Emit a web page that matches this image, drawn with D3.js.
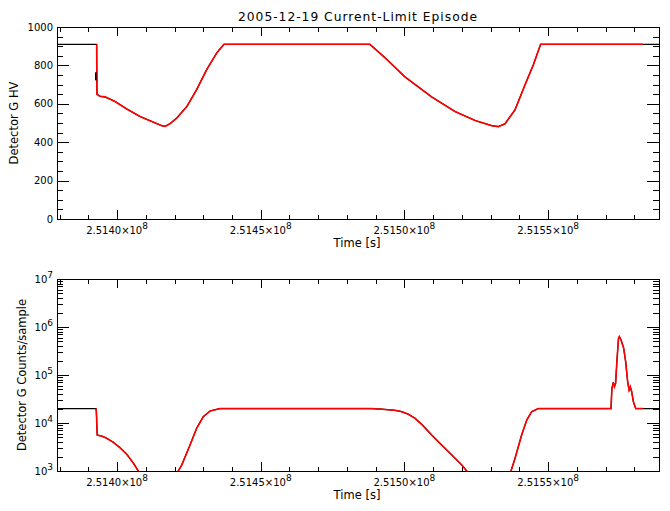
<!DOCTYPE html>
<html><head><meta charset="utf-8">
<script src="https://cdn.jsdelivr.net/npm/d3@7"></script>
<style>
body{margin:0;background:#fff}
svg text{font-family:"DejaVu Sans",sans-serif;fill:#000}
</style>
</head><body><svg id="c" width="670" height="511"></svg>
<script>
const title = "2005-12-19 Current-Limit Episode";
const xTitle = "Time [s]";
const hvTitle = "Detector G HV";
const cntTitle = "Detector G Counts/sample";
const xDomain = [251379100, 251588600];
const xTicks = [251400000, 251450000, 251500000, 251550000];
const xTickLabels = ["2.5140", "2.5145", "2.5150", "2.5155"];
const xTickExp = "8";
const hvTicks = [0, 200, 400, 600, 800, 1000];
const hvTickLabels = ["0", "200", "400", "600", "800", "1000"];
const cntDecades = [3, 4, 5, 6, 7];

const hvTime = [251379100, 251392900, 251393000, 251394100, 251395800, 251399300, 251403400, 251408000, 251412100, 251415600, 251416700, 251418400, 251420800, 251424300, 251427700, 251431200, 251434700, 251437200, 251488000, 251493300, 251500200, 251509500, 251517600, 251524600, 251530400, 251532700, 251535000, 251538500, 251542000, 251544900, 251547400, 251583000, 251588600];
const hvValue = [910, 910, 650, 639, 636, 612, 573, 534, 508, 486, 482, 496, 526, 586, 674, 778, 865, 910, 910, 839, 740, 636, 560, 513, 486, 481, 496, 569, 700, 804, 910, 910, 910];
const hvGlitchTime = [251392600, 251392600];
const hvGlitchValue = [764, 722];

const cntTime = [251379100, 251392700, 251392800, 251393100, 251394100, 251395200, 251396400, 251398700, 251401000, 251403400, 251405700, 251407400, 251414300, 251421300, 251422500, 251425400, 251427700, 251430000, 251432400, 251435800, 251488600, 251492100, 251496700, 251499100, 251501400, 251503700, 251506000, 251509500, 251513000, 251516500, 251520000, 251521700, 251529500, 251537100, 251538500, 251540800, 251542600, 251544300, 251546600, 251571900, 251572200, 251572700, 251573100, 251573500, 251573900, 251574500, 251574800, 251575400, 251576300, 251577000, 251577700, 251578200, 251578600, 251579100, 251579700, 251580500, 251583000, 251588600];
const cntValue = [20000, 20000, 17000, 5620, 5440, 5190, 4800, 3960, 3060, 2230, 1450, 1000, 200, 1000, 1330, 3470, 7770, 13500, 17800, 20000, 20000, 19400, 18400, 17200, 15200, 12500, 9400, 5620, 3470, 2150, 1330, 1000, 200, 1000, 1840, 5620, 11600, 17200, 20000, 20000, 52000, 70000, 57000, 67000, 174000, 575000, 630000, 537000, 363000, 190000, 72000, 48600, 57000, 44700, 27600, 20000, 20000, 20000];

const episodeStart = 251392700, episodeEnd = 251583000;

const svg = d3.select("#c");
const L = 57, R = 659;
const panels = [
  {top: 27, bottom: 219},
  {top: 279, bottom: 471}
];

const x = d3.scaleLinear().domain(xDomain).range([L, R]);
const yHV = d3.scaleLinear().domain([0, 1000]).range([panels[0].bottom, panels[0].top]);
const yCnt = d3.scaleLog().domain([1e3, 1e7]).range([panels[1].bottom, panels[1].top]);

const xMinor = d3.range(251380000, 251588601, 10000).filter(t => !xTicks.includes(t));
const hvMinor = d3.range(0, 1001, 50).filter(v => !hvTicks.includes(v));
const cntMajor = cntDecades.map(d => Math.pow(10, d));
const cntMinor = [];
cntDecades.slice(0, -1).forEach(d => { for (let m = 2; m <= 9; m++) cntMinor.push(m * Math.pow(10, d)); });

svg.append("text").attr("x", 357.5).attr("y", 21).attr("text-anchor", "middle")
  .attr("font-size", 12.3).attr("textLength", 239).attr("lengthAdjust", "spacing").text(title);

function tickAxis(gen, tr) {
  const g = svg.append("g").attr("transform", tr).call(gen);
  g.select(".domain").remove();
  g.selectAll("text").remove();
  g.selectAll("line").attr("stroke", "#000").attr("shape-rendering", "crispEdges");
  return g;
}

function drawPanel(p, y, majors, minors, yLabelFn, yTitleText, yTitleX) {
  tickAxis(d3.axisBottom(x).tickValues(xTicks).tickSize(-9), `translate(0,${p.bottom})`);
  tickAxis(d3.axisBottom(x).tickValues(xMinor).tickSize(-4.5), `translate(0,${p.bottom})`);
  tickAxis(d3.axisTop(x).tickValues(xTicks).tickSize(-9), `translate(0,${p.top})`);
  tickAxis(d3.axisTop(x).tickValues(xMinor).tickSize(-4.5), `translate(0,${p.top})`);
  tickAxis(d3.axisLeft(y).tickValues(majors).tickSize(-12), `translate(${L},0)`);
  tickAxis(d3.axisLeft(y).tickValues(minors).tickSize(-6), `translate(${L},0)`);
  tickAxis(d3.axisRight(y).tickValues(majors).tickSize(-12), `translate(${R},0)`);
  tickAxis(d3.axisRight(y).tickValues(minors).tickSize(-6), `translate(${R},0)`);

  svg.append("rect").attr("x", L + 0.5).attr("y", p.top + 0.5)
    .attr("width", R - L).attr("height", p.bottom - p.top)
    .attr("fill", "none").attr("stroke", "#000").attr("stroke-width", 1)
    .attr("shape-rendering", "crispEdges");

  xTicks.forEach((t, i) => {
    const tx = svg.append("text").attr("x", x(t)).attr("y", p.bottom + 15)
      .attr("text-anchor", "middle").attr("font-size", 10);
    tx.append("tspan").text(xTickLabels[i] + "\u00d710");
    tx.append("tspan").attr("dy", -5).attr("font-size", 9).text(xTickExp);
  });
  majors.forEach((v, i) => yLabelFn(v, i));

  svg.append("text").attr("x", 357).attr("y", p.bottom + 28).attr("text-anchor", "middle")
    .attr("font-size", 11.5).text(xTitle);
  svg.append("text").attr("transform", `translate(${yTitleX},${(p.top + p.bottom) / 2}) rotate(-90)`)
    .attr("text-anchor", "middle").attr("font-size", 11.5).text(yTitleText);
}

drawPanel(panels[0], yHV, hvTicks, hvMinor, (v, i) => {
  svg.append("text").attr("x", 53).attr("y", yHV(v)).attr("dy", "0.36em")
    .attr("text-anchor", "end").attr("font-size", 10).text(hvTickLabels[i]);
}, hvTitle, 18);

drawPanel(panels[1], yCnt, cntMajor, cntMinor, (v, i) => {
  const t = svg.append("text").attr("x", 53).attr("y", yCnt(v)).attr("dy", "0.36em")
    .attr("text-anchor", "end").attr("font-size", 10);
  t.append("tspan").text("10");
  t.append("tspan").attr("dy", -5).attr("font-size", 9).text(String(cntDecades[i]));
}, cntTitle, 26);

panels.forEach((p, i) => {
  svg.append("clipPath").attr("id", "clip" + i).append("rect")
    .attr("x", L).attr("y", p.top).attr("width", R - L).attr("height", p.bottom - p.top);
});

function series(times, values) { return times.map((t, i) => ({t, v: values[i]})); }
const hvAll = series(hvTime, hvValue);
const cntAll = series(cntTime, cntValue);
const inEp = d => d.t >= episodeStart && d.t <= episodeEnd;

const lineHV = d3.line().x(d => x(d.t)).y(d => yHV(d.v));
const lineCnt = d3.line().x(d => x(d.t)).y(d => yCnt(d.v));

const g0 = svg.append("g").attr("clip-path", "url(#clip0)");
g0.append("path").attr("d", lineHV(hvAll)).attr("fill", "none").attr("stroke", "#000").attr("stroke-width", 1.2);
g0.append("path").attr("d", lineHV(hvAll.filter(inEp))).attr("fill", "none").attr("stroke", "#ff0000").attr("stroke-width", 1.6);
g0.append("path").attr("d", lineHV(series(hvGlitchTime, hvGlitchValue))).attr("fill", "none").attr("stroke", "#000").attr("stroke-width", 1.6);

const g1 = svg.append("g").attr("clip-path", "url(#clip1)");
g1.append("path").attr("d", lineCnt(cntAll)).attr("fill", "none").attr("stroke", "#000").attr("stroke-width", 1.2);
g1.append("path").attr("d", lineCnt(cntAll.filter(inEp))).attr("fill", "none").attr("stroke", "#ff0000").attr("stroke-width", 1.6);
</script>
</body></html>
